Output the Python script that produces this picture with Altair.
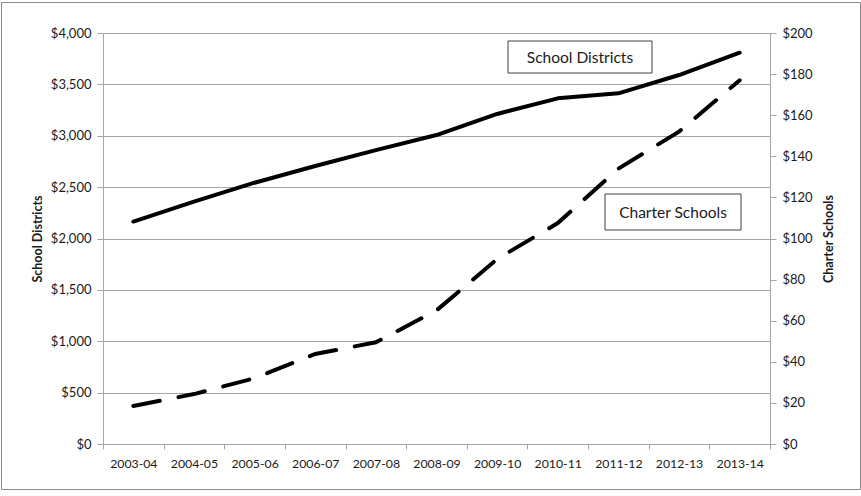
import altair as alt
import pandas as pd

years = ["2003-04", "2004-05", "2005-06", "2006-07", "2007-08", "2008-09",
         "2009-10", "2010-11", "2011-12", "2012-13", "2013-14"]
districts = [2165, 2358, 2543, 2706, 2860, 3007, 3212, 3364, 3413, 3591, 3808]
charters = [18.5, 24.3, 32, 43.8, 49.5, 65, 90, 107.5, 134, 152, 177]
left_ticks = [0, 500, 1000, 1500, 2000, 2500, 3000, 3500, 4000]
right_ticks = [0, 20, 40, 60, 80, 100, 120, 140, 160, 180, 200]
box_labels = ["School Districts", "Charter Schools"]

df = pd.DataFrame({"year": years, "districts": districts, "charters": charters})

W, H = 667, 411
FONT = "Lato"
GRAY = "#a6a6a6"
TXT = "#1a1a1a"

x_enc = alt.X(
    "year:O", sort=years, bandPosition=0.5,
    scale=alt.Scale(type="band", paddingInner=0, paddingOuter=0),
    axis=alt.Axis(title=None, labelAngle=0, tickBand="extent", domainColor=GRAY,
                  tickColor=GRAY, tickSize=5, labelPadding=8, labelFont=FONT,
                  labelFontSize=12.3, labelColor=TXT, grid=False),
)

left = alt.Chart(df).mark_line(color="black", strokeWidth=4, strokeCap="round",
                               strokeJoin="round").encode(
    x=x_enc,
    y=alt.Y("districts:Q", scale=alt.Scale(domain=[0, 4000]),
            axis=alt.Axis(values=left_ticks, format="$,.0f", title="School Districts",
                          grid=True, gridColor=GRAY, domainColor=GRAY, tickColor=GRAY,
                          tickSize=6, labelPadding=6, labelFont=FONT, labelFontSize=13,
                          labelColor=TXT, titleFont=FONT, titleFontSize=12.5,
                          titleFontWeight="bold", titleColor=TXT, titleAngle=270,
                          titleX=-66, titleY=H / 2, titleAlign="center",
                          titleBaseline="middle")),
)

right = alt.Chart(df).mark_line(color="black", strokeWidth=4, strokeCap="round",
                                strokeDash=[27, 19]).encode(
    x=x_enc,
    y=alt.Y("charters:Q", scale=alt.Scale(domain=[0, 200]),
            axis=alt.Axis(orient="right", values=right_ticks, format="$,.0f",
                          title="Charter Schools", grid=False, domainColor=GRAY,
                          tickColor=GRAY, tickSize=6, labelPadding=6, labelFont=FONT,
                          labelFontSize=13, labelColor=TXT, titleFont=FONT,
                          titleFontSize=12.5, titleFontWeight="bold", titleColor=TXT,
                          titleAngle=270, titleX=58, titleY=H / 2, titleAlign="center",
                          titleBaseline="middle")),
)

lab1 = pd.DataFrame({"label": [box_labels[0]]})
lab2 = pd.DataFrame({"label": [box_labels[1]]})

box1 = alt.Chart(lab1).mark_rect(fill="white", stroke="#404040", strokeWidth=1).encode(
    x=alt.value(405), x2=alt.value(549), y=alt.value(8), y2=alt.value(40))
txt1 = alt.Chart(lab1).mark_text(font=FONT, fontSize=15.5, color=TXT, baseline="middle",
                                 align="center").encode(
    text="label:N", x=alt.value(477), y=alt.value(24.5))
box2 = alt.Chart(lab2).mark_rect(fill="white", stroke="#404040", strokeWidth=1).encode(
    x=alt.value(502), x2=alt.value(638), y=alt.value(161), y2=alt.value(197))
txt2 = alt.Chart(lab2).mark_text(font=FONT, fontSize=15.5, color=TXT, baseline="middle",
                                 align="center").encode(
    text="label:N", x=alt.value(570), y=alt.value(179.5))
frame = alt.Chart(lab1).mark_rect(fill=None, stroke="#8c8c8c", strokeWidth=1).encode(
    x=alt.value(-101.5), x2=alt.value(757.5), y=alt.value(-30.5), y2=alt.value(456.5))

chart = alt.layer(left, right, box1, txt1, box2, txt2, frame).resolve_scale(
    y="independent"
).properties(
    width=W, height=H, autosize="none",
    padding={"left": 103, "top": 33, "right": 91, "bottom": 52},
).configure_view(stroke=None).configure(background="white")

chart.save("out.html", embed_options={"renderer": "svg", "actions": False})
